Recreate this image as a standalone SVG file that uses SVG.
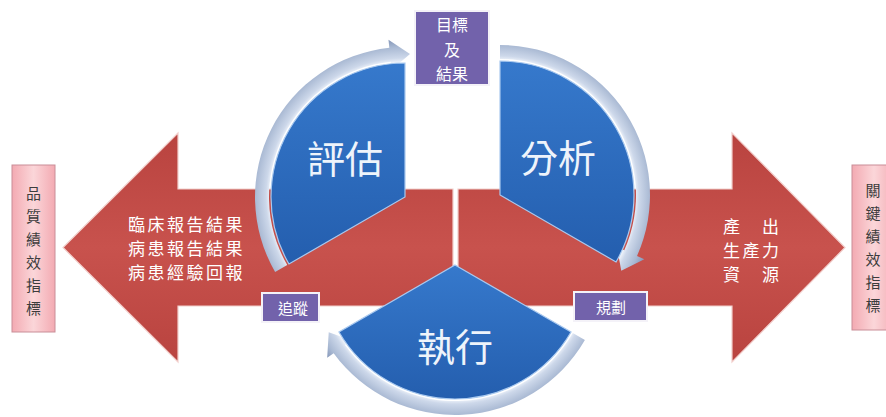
<svg xmlns="http://www.w3.org/2000/svg" width="886" height="417" viewBox="0 0 886 417">
<defs>
<linearGradient id="red" x1="0" y1="0" x2="0" y2="1">
<stop offset="0" stop-color="#b9433f"/>
<stop offset="0.5" stop-color="#c8524d"/>
<stop offset="1" stop-color="#b9433f"/>
</linearGradient>
<linearGradient id="pink" x1="0" y1="0" x2="1" y2="0">
<stop offset="0" stop-color="#f3aab2"/>
<stop offset="0.5" stop-color="#fbd6d9"/>
<stop offset="1" stop-color="#f3aab2"/>
</linearGradient>
<linearGradient id="blue" x1="0" y1="0" x2="0" y2="1">
<stop offset="0" stop-color="#3679cc"/>
<stop offset="1" stop-color="#245eae"/>
</linearGradient>
<radialGradient id="b1" gradientUnits="userSpaceOnUse" cx="405" cy="197" r="158">
<stop offset="0.85" stop-color="#f2f6fc"/>
<stop offset="0.88" stop-color="#cdd8ea"/>
<stop offset="0.95" stop-color="#a9b9d3"/>
<stop offset="1" stop-color="#8496b8"/>
</radialGradient>
<radialGradient id="b2" gradientUnits="userSpaceOnUse" cx="500" cy="195" r="158">
<stop offset="0.85" stop-color="#f2f6fc"/>
<stop offset="0.88" stop-color="#cdd8ea"/>
<stop offset="0.95" stop-color="#a9b9d3"/>
<stop offset="1" stop-color="#8496b8"/>
</radialGradient>
<radialGradient id="b3" gradientUnits="userSpaceOnUse" cx="455" cy="265" r="158">
<stop offset="0.85" stop-color="#f2f6fc"/>
<stop offset="0.88" stop-color="#cdd8ea"/>
<stop offset="0.95" stop-color="#a9b9d3"/>
<stop offset="1" stop-color="#8496b8"/>
</radialGradient>
</defs>
<style>
.arrow{fill:url(#red);stroke:#f2cfcc;stroke-width:1.2}
.pinkbox{fill:url(#pink);stroke:#c98e98;stroke-width:1}
.slice{fill:url(#blue);stroke:#a9c9ef;stroke-width:1.2}
.purple{fill:#7262ab;stroke:#f4f2f8;stroke-width:2}
.cjk{font-family:"Noto Sans CJK TC","Noto Sans CJK SC",sans-serif}
.wt{fill:#ffffff;font-size:17px;letter-spacing:2.5px}
.big{fill:#eef4fb;font-size:38px}
.ptxt{fill:#ffffff;font-size:15px}
.vt{fill:#3c3c3c;font-size:15px}
</style>
<rect width="886" height="417" fill="#ffffff"/>

<g id="connectors">
<polygon id="arrow-left" class="arrow" points="453,189 178,189 178,133 63,247.5 178,362 178,306 453,306"/>
<polygon id="arrow-right" class="arrow" points="458,189 732,189 732,133 845,247.5 732,362 732,306 458,306"/>
<path id="band-eval" fill="url(#b1)" d="M275.10,272 A150 150 0 0 1 389.32,47.82 L388.48,39.87 L409.99,54.09 L391.62,69.70 L390.78,61.74 A136 136 0 0 0 287.22,265 Z"/>
<path id="band-analysis" fill="url(#b2)" d="M500,45 A150 150 0 0 1 637.03,256.01 L644.34,259.26 L621.27,270.78 L616.93,247.06 L624.24,250.32 A136 136 0 0 0 500,59 Z"/>
<path id="band-exec" fill="url(#b3)" d="M584.90,340 A150 150 0 0 1 333.65,353.17 L327.18,357.87 L328.74,332.13 L351.45,340.24 L344.97,344.94 A136 136 0 0 0 572.78,333 Z"/>
</g>

<g id="text-left" class="cjk wt" dominant-baseline="central">
<text x="128" y="223">臨床報告結果</text>
<text x="128" y="247">病患報告結果</text>
<text x="128" y="271">病患經驗回報</text>
</g>
<g id="text-right" class="cjk wt" dominant-baseline="central">
<text x="723" y="225">產　出</text>
<text x="723" y="249">生產力</text>
<text x="723" y="273">資　源</text>
</g>

<g id="kpi-left">
<rect class="pinkbox" x="12" y="165" width="43" height="167"/>
<g class="cjk vt" text-anchor="middle" dominant-baseline="central">
<text x="33.5" y="192">品</text>
<text x="33.5" y="215">質</text>
<text x="33.5" y="238">績</text>
<text x="33.5" y="261">效</text>
<text x="33.5" y="284">指</text>
<text x="33.5" y="307">標</text>
</g>
</g>
<g id="kpi-right">
<rect class="pinkbox" x="852" y="165" width="44" height="165"/>
<g class="cjk vt" text-anchor="middle" dominant-baseline="central">
<text x="873" y="189">關</text>
<text x="873" y="212">鍵</text>
<text x="873" y="235">績</text>
<text x="873" y="258">效</text>
<text x="873" y="281">指</text>
<text x="873" y="304">標</text>
</g>
</g>

<g id="node-eval">
<path class="slice" d="M405,197 L405,63 A134 134 0 0 0 288.95,264 Z"/>
<text class="cjk big" x="345" y="156" text-anchor="middle" dominant-baseline="central">評估</text>
</g>
<g id="node-analysis">
<path class="slice" d="M500,195 L500,61 A134 134 0 0 1 616.05,262 Z"/>
<text class="cjk big" x="558" y="155" text-anchor="middle" dominant-baseline="central">分析</text>
</g>
<g id="node-exec">
<path class="slice" d="M455,265 L571.05,332 A134 134 0 0 1 338.95,332 Z"/>
<text class="cjk big" x="455" y="344" text-anchor="middle" dominant-baseline="central">執行</text>
</g>

<g id="node-goal">
<rect class="purple" x="415" y="11" width="74" height="74"/>
<g class="cjk ptxt" text-anchor="middle" dominant-baseline="central" style="font-size:16px">
<text x="452" y="24">目標</text>
<text x="452" y="49">及</text>
<text x="452" y="73">結果</text>
</g>
</g>
<g id="node-track">
<rect class="purple" x="262" y="293" width="57" height="29"/>
<text class="cjk ptxt" x="293" y="307" text-anchor="middle" dominant-baseline="central">追蹤</text>
</g>
<g id="node-plan">
<rect class="purple" x="574" y="292" width="73" height="29"/>
<text class="cjk ptxt" x="611" y="306" text-anchor="middle" dominant-baseline="central">規劃</text>
</g>
</svg>
